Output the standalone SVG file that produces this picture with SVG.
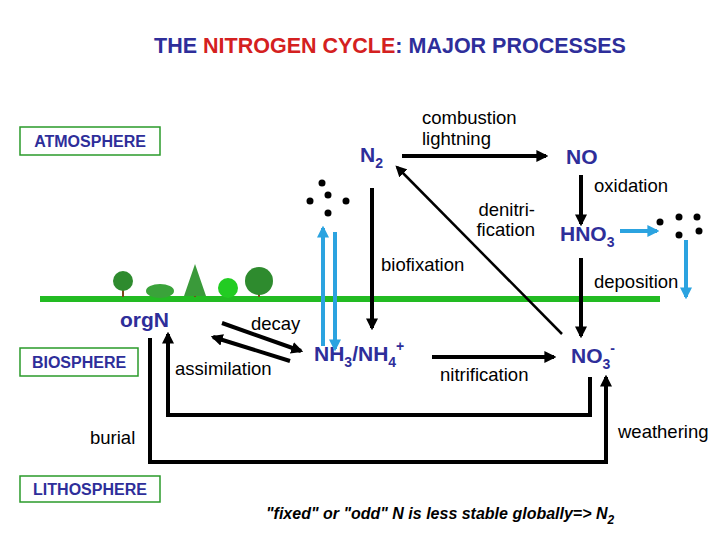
<svg xmlns="http://www.w3.org/2000/svg" width="720" height="540" viewBox="0 0 720 540">
<defs>
<style>
text{font-family:"Liberation Sans",Arial,sans-serif}
.lbl{font-size:18.5px;fill:#000}
.sp{font-size:21px;font-weight:bold;fill:#2e2e9a}
.sub{font-size:14px}
.box rect{fill:#fff;stroke:#2a9a2a;stroke-width:1.5}
.box text{font-size:16px;font-weight:bold;fill:#2e2e9a}
.k{stroke:#000;stroke-width:4;fill:none}
.kt{stroke:#000;stroke-width:2.5;fill:none}
.b{stroke:#2ba3e0;stroke-width:4;fill:none}
.d{fill:#000}
</style>
<marker id="ah" viewBox="0 0 10 10" refX="8" refY="5" markerWidth="3" markerHeight="3" orient="auto" markerUnits="strokeWidth"><path d="M0,0L10,5L0,10z" fill="#000"/></marker>
<marker id="ahs" viewBox="0 0 10 10" refX="8" refY="5" markerWidth="4.5" markerHeight="4.5" orient="auto" markerUnits="strokeWidth"><path d="M0,0L10,5L0,10z" fill="#000"/></marker>
<marker id="bh" viewBox="0 0 10 10" refX="8" refY="5" markerWidth="3" markerHeight="3" orient="auto" markerUnits="strokeWidth"><path d="M0,0L10,5L0,10z" fill="#2ba3e0"/></marker>
</defs>
<rect width="720" height="540" fill="#fff"/>
<text x="390" y="53" text-anchor="middle" font-size="21.5" font-weight="bold" fill="#2e2e9a">THE <tspan fill="#d42020">NITROGEN CYCLE</tspan>: MAJOR PROCESSES</text>
<rect x="40" y="296" width="620" height="6" fill="#22bb22"/>
<g id="trees">
<rect x="122" y="285" width="2" height="12" fill="#7a4a1a"/><circle cx="123" cy="281" r="10" fill="#2e8b2e"/>
<ellipse cx="160" cy="291" rx="14" ry="7" fill="#3aa33a"/>
<rect x="194" y="284" width="2" height="13" fill="#7a4a1a"/><path d="M195,264L184,296L206,296z" fill="#3a9a3a"/>
<ellipse cx="228" cy="288" rx="10" ry="10" fill="#22cc22"/>
<rect x="258" y="284" width="2" height="13" fill="#7a4a1a"/><circle cx="259" cy="281" r="14" fill="#2e8b2e"/>
</g>
<g id="atmosphere" class="box"><rect x="20" y="127" width="140" height="28"/><text x="90" y="147" text-anchor="middle">ATMOSPHERE</text></g>
<g id="biosphere" class="box"><rect x="20" y="348" width="118" height="28"/><text x="79" y="368" text-anchor="middle">BIOSPHERE</text></g>
<g id="lithosphere" class="box"><rect x="20" y="476" width="140" height="26"/><text x="90" y="495" text-anchor="middle">LITHOSPHERE</text></g>
<g id="n2"><text class="sp" x="360" y="162">N<tspan class="sub" dy="6">2</tspan></text></g>
<g id="no"><text class="sp" x="566" y="164">NO</text></g>
<g id="hno3"><text class="sp" x="560" y="241">HNO<tspan class="sub" dy="6">3</tspan></text></g>
<g id="no3"><text class="sp" x="571" y="363">NO<tspan class="sub" dy="6">3</tspan><tspan class="sub" dy="-16">-</tspan></text></g>
<g id="nh3"><text class="sp" x="314" y="361">NH<tspan class="sub" dy="6">3</tspan><tspan dy="-6">/NH</tspan><tspan class="sub" dy="6">4</tspan><tspan class="sub" dy="-16">+</tspan></text></g>
<g id="orgn"><text class="sp" x="120" y="327">orgN</text></g>
<g id="dots1"><circle class="d" cx="322" cy="183" r="3.5"/><circle class="d" cx="328" cy="195" r="3.5"/><circle class="d" cx="310" cy="201" r="3.5"/><circle class="d" cx="346" cy="201" r="3.5"/><circle class="d" cx="328" cy="213" r="3.5"/></g>
<g id="dots2"><circle class="d" cx="660" cy="222" r="3.5"/><circle class="d" cx="679" cy="217" r="3.5"/><circle class="d" cx="697" cy="217" r="3.5"/><circle class="d" cx="679" cy="235" r="3.5"/><circle class="d" cx="699" cy="231" r="3.5"/></g>
<g id="labels" class="lbl">
<text x="422" y="124">combustion</text><text x="422" y="145">lightning</text>
<text x="594" y="192">oxidation</text>
<text x="535" y="216" text-anchor="end">denitri-</text><text x="535" y="236" text-anchor="end">fication</text>
<text x="381" y="271">biofixation</text>
<text x="594" y="288">deposition</text>
<text x="251" y="330">decay</text>
<text x="175" y="375">assimilation</text>
<text x="440" y="381">nitrification</text>
<text x="90" y="444">burial</text>
<text x="618" y="438">weathering</text>
<text x="266" y="519" font-weight="bold" font-style="italic" font-size="16">"fixed" or "odd" N is less stable globally=&gt; N<tspan font-size="12" dy="5">2</tspan></text>
</g>
<g id="connectors">
<path class="k" d="M402,156H546" marker-end="url(#ah)"/>
<path class="k" d="M581,175V224" marker-end="url(#ah)"/>
<path class="k" d="M581,258V336" marker-end="url(#ah)"/>
<path class="kt" d="M562,334L397,167" marker-end="url(#ahs)"/>
<path class="k" d="M372,188V328" marker-end="url(#ah)"/>
<path class="k" d="M432,357H554" marker-end="url(#ah)"/>
<path class="k" d="M222,323L301,351" marker-end="url(#ah)"/>
<path class="k" d="M290,361L213,337" marker-end="url(#ah)"/>
<path class="k" d="M590,377V415H168V334" marker-end="url(#ah)"/>
<path class="k" d="M150,338V462H606V377" marker-end="url(#ah)"/>
<path class="b" d="M323,346V228" marker-end="url(#bh)"/>
<path class="b" d="M335,232V349" marker-end="url(#bh)"/>
<path class="b" d="M620,231H657" marker-end="url(#bh)"/>
<path class="b" d="M686,240V297" marker-end="url(#bh)"/>
</g>
</svg>
